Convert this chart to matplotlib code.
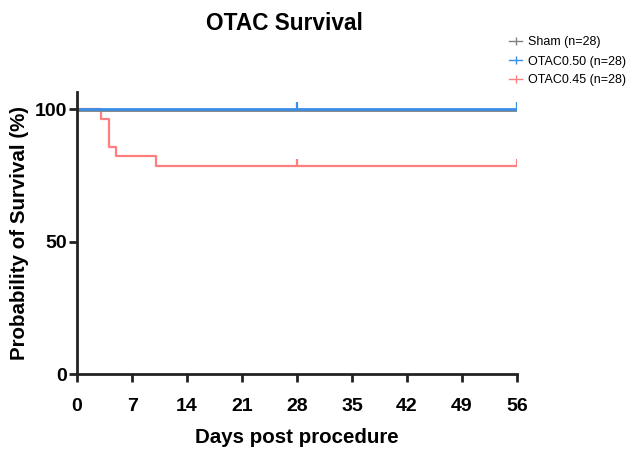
import matplotlib
matplotlib.use("Agg")
import matplotlib.pyplot as plt
from matplotlib.lines import Line2D

plt.rcParams['font.family'] = ['Liberation Sans', 'DejaVu Sans']

# Data (Kaplan-Meier steps)
sham_t = [0, 56]
sham_s = [100, 100]
otac50_t = [0, 56]
otac50_s = [100, 100]
otac45_t = [0, 3, 4, 5, 10, 56]
otac45_s = [100, 96.43, 85.71, 82.14, 78.57, 78.57]
censor_t = [28, 56]

labels = ['Sham (n=28)', 'OTAC0.50 (n=28)', 'OTAC0.45 (n=28)']
colors = ['#808080', '#3a8ee6', '#ff7f7f']
xticks = [0, 7, 14, 21, 28, 35, 42, 49, 56]
yticks = [0, 50, 100]

fig = plt.figure(figsize=(6.32, 4.5), dpi=100)
ax = fig.add_axes([0.122, 0.168, 0.696, 0.628])

ax.step(otac45_t, otac45_s, where='post', color=colors[2], lw=1.6)
ax.step(sham_t, [s - 0.4 for s in sham_s], where='post', color=colors[0], lw=2)
ax.step(otac50_t, otac50_s, where='post', color=colors[1], lw=2)

ax.vlines(censor_t, [100] * len(censor_t), [102.5] * len(censor_t), color=colors[1], lw=1.6)
ax.vlines(censor_t, [78.57] * len(censor_t), [81.07] * len(censor_t), color=colors[2], lw=1.6)

ax.set_xlim(0, 56)
ax.set_ylim(0, 106.5)
ax.set_xticks(xticks)
ax.set_yticks(yticks)
ax.spines['top'].set_visible(False)
ax.spines['right'].set_visible(False)
for s in ['left', 'bottom']:
    ax.spines[s].set_linewidth(2)
    ax.spines[s].set_color('#222222')
ax.tick_params(width=2, length=6, labelsize=14, color='#222222')
for lab in ax.get_xticklabels() + ax.get_yticklabels():
    lab.set_fontweight('bold')
ax.tick_params(axis='x', pad=11)
ax.tick_params(axis='y', pad=1.5)
ax.set_xlabel('Days post procedure', fontsize=14.8, fontweight='bold', labelpad=9)
ax.set_ylabel('Probability of Survival (%)', fontsize=14.8, fontweight='bold', labelpad=4)
fig.text(0.45, 0.948, 'OTAC Survival', ha='center', va='center', fontsize=16.3, fontweight='bold')

handles = [Line2D([0], [0], color=c, lw=1, marker='|', ms=6, mew=1) for c in colors]
leg = fig.legend(handles, labels, loc='upper left', bbox_to_anchor=(0.798, 0.93),
                 frameon=False, fontsize=9, handlelength=1.0, handletextpad=0.5,
                 labelspacing=0.56, borderaxespad=0)

fig.savefig('out.png', dpi=100)
